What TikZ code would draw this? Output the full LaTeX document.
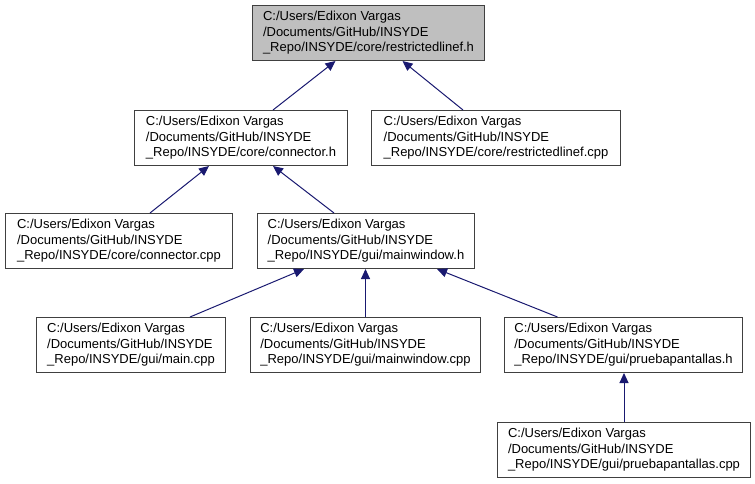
\documentclass[tikz,border=0pt]{standalone}
\usepackage{fontspec}
\setmainfont{Liberation Sans}
\usetikzlibrary{arrows.meta}

\definecolor{edgeblue}{HTML}{191970}
\definecolor{boxgray}{HTML}{BFBFBF}
\definecolor{boxline}{HTML}{404040}

\tikzset{
    file/.style={draw=boxline, line width=1pt, anchor=north west, align=left,
        minimum width=#1, minimum height=55pt, inner xsep=0pt, inner ysep=0pt,
        font=\fontsize{13}{15.5}\selectfont},
    dep/.style={draw=edgeblue, line width=1pt, -{Triangle[length=10pt,width=9pt]}}
}

\begin{document}
\begin{tikzpicture}[x=1pt, y=-1pt]
    \useasboundingbox (0,0) rectangle (755,483);

    % header itself
    \node[file=232pt, fill=boxgray] (rlh) at (252,5)
        {C:/Users/Edixon Vargas\\/Documents/GitHub/INSYDE\\\_Repo/INSYDE/core/restrictedlinef.h};

    % second row
    \node[file=213pt] (conh) at (134,110)
        {C:/Users/Edixon Vargas\\/Documents/GitHub/INSYDE\\\_Repo/INSYDE/core/connector.h};
    \node[file=249pt] (rlcpp) at (371,110)
        {C:/Users/Edixon Vargas\\/Documents/GitHub/INSYDE\\\_Repo/INSYDE/core/restrictedlinef.cpp};

    % third row
    \node[file=227pt] (concpp) at (5,213)
        {C:/Users/Edixon Vargas\\/Documents/GitHub/INSYDE\\\_Repo/INSYDE/core/connector.cpp};
    \node[file=217pt] (mwh) at (257,213)
        {C:/Users/Edixon Vargas\\/Documents/GitHub/INSYDE\\\_Repo/INSYDE/gui/mainwindow.h};

    % fourth row
    \node[file=189pt] (maincpp) at (36,317)
        {C:/Users/Edixon Vargas\\/Documents/GitHub/INSYDE\\\_Repo/INSYDE/gui/main.cpp};
    \node[file=230pt] (mwcpp) at (250,317)
        {C:/Users/Edixon Vargas\\/Documents/GitHub/INSYDE\\\_Repo/INSYDE/gui/mainwindow.cpp};
    \node[file=238pt] (pph) at (504,317)
        {C:/Users/Edixon Vargas\\/Documents/GitHub/INSYDE\\\_Repo/INSYDE/gui/pruebapantallas.h};

    % last row
    \node[file=253pt] (ppcpp) at (497,422)
        {C:/Users/Edixon Vargas\\/Documents/GitHub/INSYDE\\\_Repo/INSYDE/gui/pruebapantallas.cpp};

    % include edges
    \draw[dep] ([xshift=32pt]conh.north) -- ([xshift=-33pt]rlh.south);
    \draw[dep] ([xshift=-33pt]rlcpp.north) -- ([xshift=34pt]rlh.south);
    \draw[dep] ([xshift=31pt]concpp.north) -- ([xshift=-32pt]conh.south);
    \draw[dep] ([xshift=-32pt]mwh.north) -- ([xshift=32pt]conh.south);
    \draw[dep] ([xshift=59pt]maincpp.north) -- ([xshift=-62pt]mwh.south);
    \draw[dep] (mwcpp.north) -- (mwcpp.north |- mwh.south);
    \draw[dep] ([xshift=-66pt]pph.north) -- ([xshift=71pt]mwh.south);
    \draw[dep] (ppcpp.north) -- (ppcpp.north |- pph.south);
\end{tikzpicture}
\end{document}
